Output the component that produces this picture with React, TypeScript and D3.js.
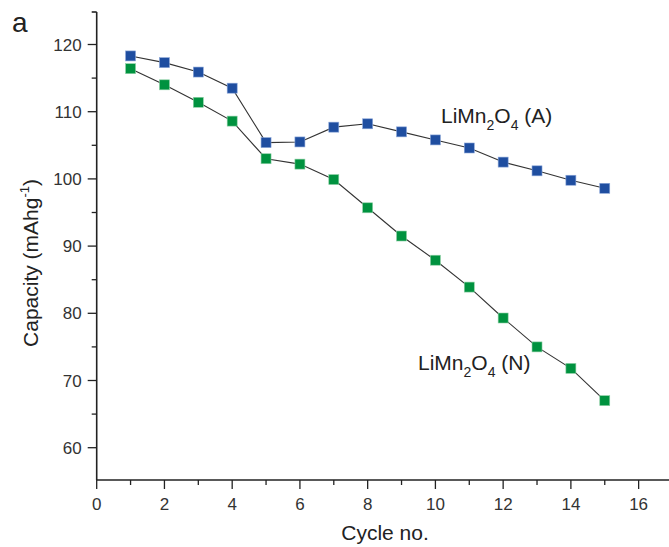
import React from "react";
import * as d3 from "d3";

const cycles = [1, 2, 3, 4, 5, 6, 7, 8, 9, 10, 11, 12, 13, 14, 15];
const seriesA = [118.3, 117.3, 115.9, 113.5, 105.4, 105.5, 107.7, 108.2, 107.0, 105.8, 104.6, 102.5, 101.2, 99.8, 98.6];
const seriesN = [116.4, 114.0, 111.4, 108.6, 103.0, 102.2, 99.9, 95.7, 91.5, 87.9, 83.9, 79.3, 75.0, 71.8, 67.0];
const xTicks = [0, 2, 4, 6, 8, 10, 12, 14, 16];
const xMinor = [1, 3, 5, 7, 9, 11, 13, 15];
const yTicks = [60, 70, 80, 90, 100, 110, 120];
const yMinor = [65, 75, 85, 95, 105, 115];

const W = 669, H = 547;
const x = d3.scaleLinear().domain([0, 17]).range([96.7, 672.5]);
const y = d3.scaleLinear().domain([60, 120]).range([447.7, 44.5]);
const FONT = "Liberation Sans, Arial, sans-serif";
const BLUE = "#1f4ea0";
const GREEN = "#00923f";

function Formula({ xPos, yPos, suffix }: { xPos: number; yPos: number; suffix: string }) {
  return (
    <text x={xPos} y={yPos} fontSize={21} fill="#222">
      LiMn<tspan dy={7} fontSize={14}>2</tspan><tspan dy={-7}>O</tspan><tspan dy={7} fontSize={14}>4</tspan><tspan dy={-7}>{" " + suffix}</tspan>
    </text>
  );
}

export default function App() {
  const line = d3.line<number>().x((_, i) => x(cycles[i])).y((d) => y(d));
  const x0 = x(0);
  const yBottom = 480;
  const yTop = 12;
  const ms = 10;
  return (
    <svg width={W} height={H} style={{ position: "absolute", left: 0, top: 0 }} fontFamily={FONT}>
      <rect width={W} height={H} fill="#fff" />
      <text x={12} y={32} fontSize={28} fill="#222">a</text>
      <line x1={x0} x2={x0} y1={yTop} y2={yBottom} stroke="#222" strokeWidth={1.6} />
      <line x1={x0} x2={W} y1={yBottom} y2={yBottom} stroke="#222" strokeWidth={1.6} />
      <line x1={x0 - 5} x2={x0} y1={yTop} y2={yTop} stroke="#222" strokeWidth={1.6} />
      {yTicks.map((t) => (
        <g key={"y" + t}>
          <line x1={x0 - 9} x2={x0} y1={y(t)} y2={y(t)} stroke="#222" strokeWidth={1.3} />
          <text x={x0 - 15} y={y(t) + 6} fontSize={17} textAnchor="end" fill="#333">{t}</text>
        </g>
      ))}
      {yMinor.map((t) => (
        <line key={"ym" + t} x1={x0 - 5} x2={x0} y1={y(t)} y2={y(t)} stroke="#222" strokeWidth={1.3} />
      ))}
      {xTicks.map((t) => (
        <g key={"x" + t}>
          <line x1={x(t)} x2={x(t)} y1={yBottom} y2={yBottom + 9} stroke="#222" strokeWidth={1.3} />
          <text x={x(t)} y={yBottom + 30} fontSize={17} textAnchor="middle" fill="#333">{t}</text>
        </g>
      ))}
      {xMinor.map((t) => (
        <line key={"xm" + t} x1={x(t)} x2={x(t)} y1={yBottom} y2={yBottom + 5} stroke="#222" strokeWidth={1.3} />
      ))}
      <text x={385} y={540} fontSize={21} textAnchor="middle" fill="#222">Cycle no.</text>
      <text transform={`translate(37.5,263) rotate(-90)`} fontSize={21} textAnchor="middle" fill="#222">
        Capacity (mAhg<tspan dy={-9} fontSize={13}>-1</tspan><tspan dy={9}>)</tspan>
      </text>
      <path d={line(seriesA) || ""} fill="none" stroke="#333" strokeWidth={1.1} />
      <path d={line(seriesN) || ""} fill="none" stroke="#333" strokeWidth={1.1} />
      {seriesA.map((v, i) => (
        <rect key={"a" + i} x={x(cycles[i]) - ms / 2} y={y(v) - ms / 2} width={ms} height={ms} fill={BLUE} stroke="#8aa6d8" strokeWidth={0.6} />
      ))}
      {seriesN.map((v, i) => (
        <rect key={"n" + i} x={x(cycles[i]) - ms / 2} y={y(v) - ms / 2} width={ms} height={ms} fill={GREEN} stroke="#8fd0a6" strokeWidth={0.6} />
      ))}
      <Formula xPos={441} yPos={123} suffix="(A)" />
      <Formula xPos={418} yPos={369.5} suffix="(N)" />
    </svg>
  );
}
